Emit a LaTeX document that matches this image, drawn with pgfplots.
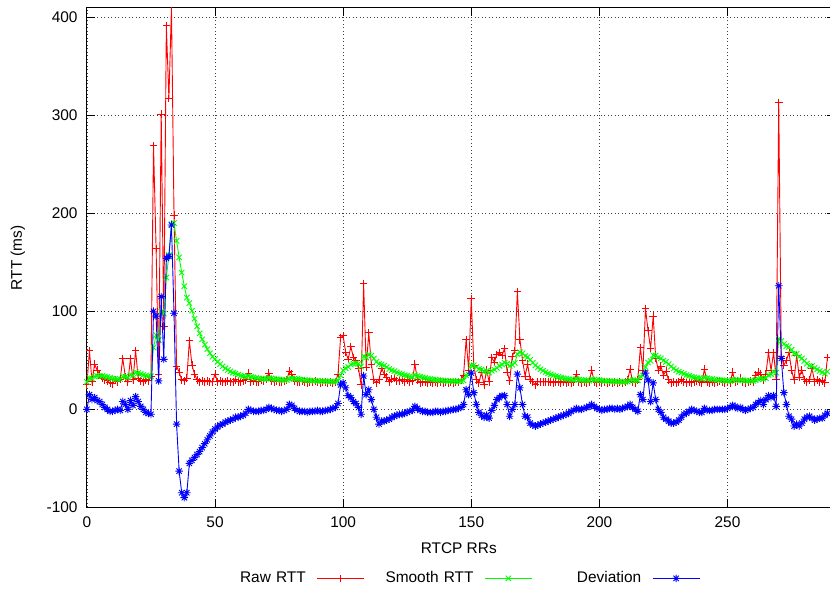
\documentclass[border=0pt]{standalone}
\usepackage{fontspec}
\setmainfont{Liberation Sans}
\usepackage{pgfplots}
\usepackage{pgfplotstable}
\pgfplotsset{compat=1.18}
\pgfdeclareplotmark{gpstar}{%
 \pgfpathmoveto{\pgfqpoint{-\pgfplotmarksize}{0pt}}\pgfpathlineto{\pgfqpoint{\pgfplotmarksize}{0pt}}%
 \pgfpathmoveto{\pgfqpoint{0pt}{-\pgfplotmarksize}}\pgfpathlineto{\pgfqpoint{0pt}{\pgfplotmarksize}}%
 \pgfpathmoveto{\pgfqpoint{-.7071\pgfplotmarksize}{-.7071\pgfplotmarksize}}\pgfpathlineto{\pgfqpoint{.7071\pgfplotmarksize}{.7071\pgfplotmarksize}}%
 \pgfpathmoveto{\pgfqpoint{-.7071\pgfplotmarksize}{.7071\pgfplotmarksize}}\pgfpathlineto{\pgfqpoint{.7071\pgfplotmarksize}{-.7071\pgfplotmarksize}}%
 \pgfusepathqstroke}
\pgfplotstableread{
x r s d
0 25 28 0
1 60 32 15
2 28 31.5 10
3 46 33.3 12
4 40 34.1 9
5 36 34.3 8
6 32 34.0 5
7 30 33.5 2
8 29 32.9 0
9 27 32.2 -2
10 26 31.4 -2
11 30 31.2 -1
12 28 30.8 0
13 31 30.8 -1
14 52 33.4 8
15 33 33.4 5
16 28 32.7 0
17 52 35.1 9
18 30 34.5 4
19 60 37.7 13
20 32 37.0 8
21 29 36.0 3
22 28 35.0 0
23 30 34.4 -3
24 29 33.7 -4
25 34 33.7 -5
26 269 63.1 100
27 164 75.7 95
28 36 70.7 29
29 301 99.5 115
30 85 97.7 51
31 391 134.4 154
32 317 157.2 156
33 410 188.8 188
34 198 190.0 98
35 44 171.7 -15
36 38 155.0 -63
37 30 139.4 -85
38 29 125.6 -90
39 32 113.9 -85
40 70 108.4 -55
41 45 100.5 -52
42 36 92.4 -49
43 30 84.6 -46
44 28 77.5 -43
45 29 71.4 -39
46 28 66.0 -35
47 29 61.4 -31
48 28 57.2 -27
49 28 53.6 -23
50 36 51.4 -20
51 28 48.5 -18
52 29 46.1 -16
53 28 43.8 -15
54 28 41.8 -13
55 29 40.2 -12
56 28 38.7 -11
57 28 37.4 -10
58 30 36.5 -8
59 28 35.4 -8
60 28 34.5 -7
61 29 33.8 -6
62 30 33.3 -4
63 37 33.8 0
64 28 33.1 -1
65 29 32.6 -2
66 28 32.1 -2
67 28 31.6 -2
68 30 31.4 -1
69 29 31.1 -1
70 31 31.1 0
71 37 31.8 2
72 29 31.5 1
73 28 31.1 0
74 29 30.8 -1
75 28 30.4 -1
76 28 30.1 -2
77 29 30.0 -1
78 30 30.0 0
79 39 31.1 5
80 36 31.7 4
81 29 31.4 1
82 28 30.9 -1
83 28 30.5 -2
84 29 30.3 -2
85 28 30.0 -2
86 27 29.6 -3
87 28 29.4 -2
88 28 29.2 -2
89 29 29.2 -2
90 28 29.1 -1
91 27 28.8 -2
92 28 28.7 -2
93 28 28.6 -1
94 27 28.4 -1
95 28 28.4 0
96 27 28.2 1
97 28 28.2 2
98 36 29.2 6
99 73 34.7 25
100 75 39.7 27
101 58 42.0 22
102 51 43.1 14
103 64 45.7 12
104 53 46.6 8
105 50 47.0 6
106 42 46.4 2
107 25 43.7 -5
108 128 54.2 34
109 43 52.8 15
110 78 56.0 20
111 46 54.8 10
112 30 51.7 0
113 27 48.6 -8
114 30 46.3 -15
115 42 45.8 -12
116 36 44.6 -12
117 33 43.1 -11
118 28 41.2 -10
119 31 39.9 -8
120 32 38.9 -7
121 29 37.7 -6
122 29 36.6 -5
123 30 35.8 -5
124 28 34.8 -4
125 30 34.4 -3
126 28 33.6 -2
127 29 33.0 -1
128 46 34.6 3
129 30 34.0 1
130 27 33.2 -1
131 28 32.6 -2
132 28 32.0 -2
133 27 31.4 -3
134 28 31.0 -3
135 27 30.5 -3
136 28 30.2 -2
137 27 29.8 -2
138 28 29.6 -3
139 27 29.3 -2
140 28 29.2 -2
141 27 28.9 -1
142 28 28.8 -1
143 27 28.6 0
144 28 28.5 0
145 28 28.4 1
146 30 28.6 2
147 35 29.4 5
148 71 34.6 20
149 40 35.3 15
150 113 45.0 37
151 45 45.0 17
152 30 43.1 5
153 27 41.1 -3
154 38 40.7 -6
155 25 38.7 -8
156 40 38.9 -6
157 28 37.5 -9
158 53 39.4 -1
159 48 40.5 4
160 56 42.4 10
161 58 44.4 12
162 55 45.7 14
163 62 47.7 14
164 38 46.5 5
165 29 44.3 -7
166 54 45.5 0
167 60 47.3 5
168 120 56.4 36
169 71 58.2 22
170 50 57.2 5
171 34 54.3 -7
172 46 53.3 -8
173 30 50.4 -14
174 28 47.6 -16
175 25 44.8 -17
176 28 42.7 -16
177 28 40.9 -15
178 28 39.3 -14
179 28 37.9 -13
180 28 36.7 -12
181 28 35.6 -11
182 27 34.6 -10
183 28 33.8 -9
184 28 33.1 -8
185 27 32.3 -7
186 28 31.8 -6
187 27 31.2 -5
188 28 30.8 -4
189 27 30.3 -2
190 28 30.0 -1
191 36 30.8 1
192 28 30.4 0
193 27 30.0 0
194 28 29.8 1
195 27 29.4 2
196 28 29.2 3
197 40 30.6 5
198 28 30.3 3
199 27 29.9 1
200 28 29.7 0
201 27 29.4 -1
202 28 29.2 0
203 27 28.9 0
204 28 28.8 1
205 27 28.6 1
206 28 28.5 0
207 27 28.3 1
208 28 28.3 0
209 27 28.1 1
210 28 28.1 2
211 30 28.3 3
212 41 29.9 5
213 28 29.7 2
214 27 29.4 0
215 30 29.5 -2
216 63 33.7 15
217 40 34.5 10
218 103 43.1 37
219 80 47.7 30
220 62 49.5 8
221 95 55.2 27
222 52 54.8 10
223 40 53.0 0
224 44 51.9 -3
225 35 49.8 -8
226 39 48.4 -10
227 30 46.1 -12
228 27 43.7 -14
229 28 41.7 -14
230 27 39.9 -13
231 28 38.4 -11
232 30 37.4 -8
233 28 36.2 -5
234 27 35.1 -4
235 28 34.2 -2
236 27 33.3 0
237 28 32.6 -1
238 29 32.1 -2
239 28 31.6 -3
240 27 31.0 -3
241 41 32.3 1
242 28 31.8 -1
243 27 31.2 -1
244 28 30.8 -1
245 27 30.3 0
246 28 30.0 0
247 29 29.9 0
248 28 29.7 0
249 27 29.4 0
250 28 29.2 1
251 27 28.9 2
252 38 30.0 4
253 28 29.8 3
254 29 29.7 1
255 32 30.0 2
256 28 29.7 0
257 27 29.4 -1
258 28 29.2 0
259 29 29.2 1
260 28 29.1 2
261 35 29.8 5
262 38 30.8 7
263 36 31.4 9
264 30 31.2 5
265 36 31.8 10
266 58 35.1 14
267 40 35.7 12
268 58 38.5 14
269 30 37.4 3
270 313 71.9 126
271 54 69.7 52
272 45 66.6 17
273 50 64.5 5
274 58 63.7 -7
275 40 60.7 -10
276 30 56.9 -17
277 55 56.7 -15
278 33 53.7 -17
279 40 52.0 -14
280 30 49.3 -10
281 28 46.6 -8
282 30 44.5 -7
283 42 44.2 -9
284 28 42.2 -11
285 30 40.7 -10
286 28 39.1 -9
287 29 37.8 -9
288 27 36.4 -6
289 53 38.5 -4
}\rtt
\begin{document}
\fontsize{15.5}{18}\selectfont
\begin{tikzpicture}
\begin{axis}[
  name=ax, scale only axis, width=749bp, height=500bp,
  xmin=0, xmax=292, ymin=-100, ymax=409.2,
  xtick={0,50,...,250}, ytick={-100,0,...,400},
  /pgf/number format/assume math mode=true,
  tick label style={font=\fontsize{15.5}{18}\selectfont},
  yticklabel style={xshift=-4bp},
  xticklabel style={yshift=-4bp},
  tick align=inside, major tick length=8bp,
  axis line style={line width=1bp, black},
  every tick/.style={black, line width=1bp},
  grid=major,
  major grid style={black!75, line width=0.8bp, dash pattern=on 1bp off 2.5bp},
  xlabel={RTCP RRs}, ylabel={RTT (ms)},
  xlabel style={at={(axis description cs:0.497,0)}, anchor=center, yshift=-41bp},
  ylabel style={at={(axis description cs:-0.0921,0.5)}, anchor=center},
  clip mode=individual,
  legend plot pos=right,
  legend columns=3,
  legend image code/.code={\draw[mark repeat=2,mark phase=2,#1] plot coordinates {(0bp,0bp) (23.5bp,0bp) (47bp,0bp)};},
  legend style={draw=none, fill=none, at={(axis description cs:0.4933,-0.142)}, anchor=center,
    nodes={text width=94bp, align=right, inner sep=0pt},
    /tikz/every odd column/.append style={column sep=11bp},
    /tikz/every even column/.append style={column sep=15bp}},
]
\addplot[red, line width=0.9bp, mark=+, mark size=3.8bp] table[x=x,y=r]{\rtt};
\addplot[green, line width=0.9bp, mark=x, mark size=3.8bp] table[x=x,y=s]{\rtt};
\addplot[blue, line width=0.9bp, mark=gpstar, mark size=3.8bp] table[x=x,y=d]{\rtt};
\legend{Raw RTT, Smooth RTT, Deviation}
\end{axis}
\pgfresetboundingbox
\path ([xshift=-87bp,yshift=-81bp]ax.south west) rectangle ([xshift=-5.1bp,yshift=8bp]ax.north east);
\end{tikzpicture}
\end{document}
